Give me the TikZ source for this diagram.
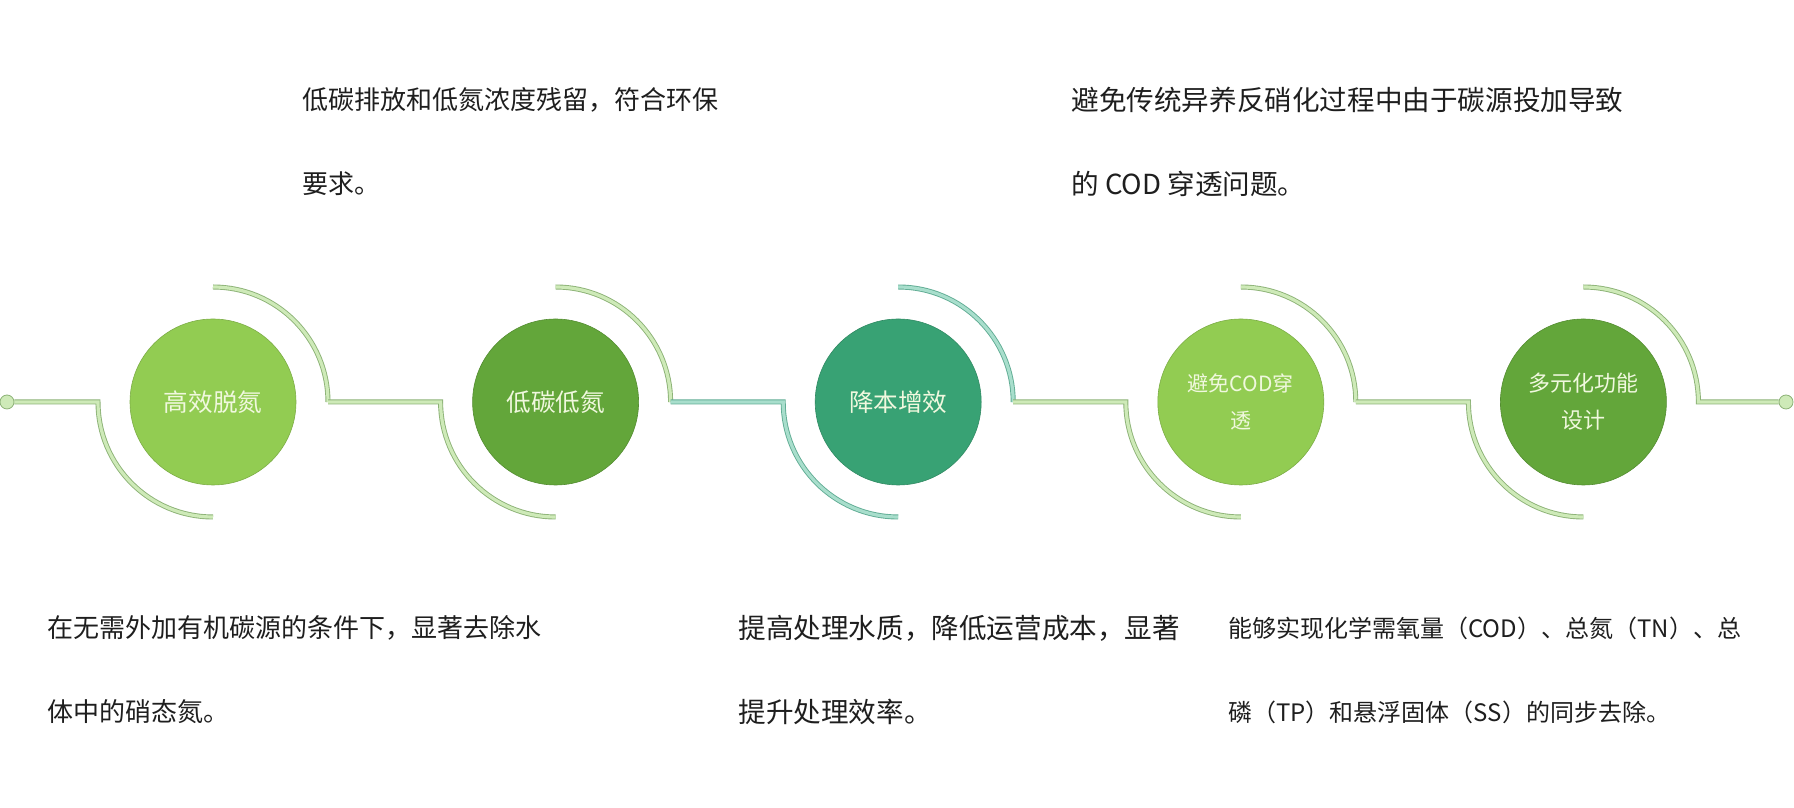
\documentclass[tikz,border=0pt]{standalone}
\usepackage{fontspec}
\setmainfont{Noto Sans CJK SC}
\usetikzlibrary{positioning}
\definecolor{leaflight}{RGB}{146,204,82}
\definecolor{leafdark}{RGB}{99,166,58}
\definecolor{tealgreen}{RGB}{56,162,116}
\definecolor{ringfill}{RGB}{206,234,184}
\definecolor{ringedge}{RGB}{140,178,118}
\definecolor{tealfill}{RGB}{168,222,204}
\definecolor{tealedge}{RGB}{96,172,148}
\definecolor{stagetext}{RGB}{240,248,222}
\definecolor{notetext}{RGB}{30,30,30}
\tikzstyle{stage} = [circle, minimum size=83pt, inner sep=0pt, align=center, text=stagetext, font=\fontsize{12.3pt}{18.5pt}\selectfont]
\tikzstyle{ring} = [draw=ringedge, double=ringfill, double distance=1.6pt, line width=0.45pt]
\tikzstyle{tealring} = [draw=tealedge, double=tealfill, double distance=1.6pt, line width=0.45pt]
\tikzstyle{dot} = [circle, fill=ringfill, draw=ringedge, line width=0.4pt, minimum size=7pt, inner sep=0pt]
\tikzstyle{note} = [align=left, anchor=west, inner sep=0pt, text=notetext, font=\fontsize{13pt}{42pt}\selectfont]

\begin{document}
\begin{tikzpicture}[x=0.5pt, y=0.5pt, node distance=88pt]
	\useasboundingbox (0,0) rectangle (1794,808);
	% Nodes
	\node (gaoxiao) [stage, fill=leaflight, draw=leaflight!85!black, line width=0.3pt] at (213,406) {高效脱氮};
	\node (ditan) [stage, fill=leafdark, draw=leafdark!85!black, line width=0.3pt, right=of gaoxiao] {低碳低氮};
	\node (jiangben) [stage, fill=tealgreen, draw=tealgreen!85!black, line width=0.3pt, right=of ditan] {降本增效};
	\node (bimian) [stage, fill=leaflight, draw=leaflight!85!black, line width=0.3pt, right=of jiangben, font=\fontsize{10.5pt}{18.5pt}\selectfont] {避免COD穿\\透};
	\node (duoyuan) [stage, fill=leafdark, draw=leafdark!85!black, line width=0.3pt, right=of bimian, font=\fontsize{11pt}{18.5pt}\selectfont] {多元化功能\\设计};
	\node (startdot) [dot] at (7,406) {};
	\node (enddot) [dot] at (1786,406) {};
	% Notes
	\node (note1) [note] at (302,666) {低碳排放和低氮浓度残留，符合环保\\要求。};
	\node (note2) [note, font=\fontsize{13.8pt}{42pt}\selectfont] at (1071,666) {避免传统异养反硝化过程中由于碳源投加导致\\的 COD 穿透问题。};
	\node (note3) [note] at (47,138) {在无需外加有机碳源的条件下，显著去除水\\体中的硝态氮。};
	\node (note4) [note, font=\fontsize{13.8pt}{42pt}\selectfont] at (738,138) {提高处理水质，降低运营成本，显著\\提升处理效率。};
	\node (note5) [note, font=\fontsize{12pt}{42pt}\selectfont] at (1228,138) {能够实现化学需氧量（COD）、总氮（TN）、总\\磷（TP）和悬浮固体（SS）的同步去除。};
	% Rings
	\draw [ring] (startdot) -- ([xshift=-57.5pt]gaoxiao.center) arc[start angle=180, end angle=270, radius=57.5pt];
	\foreach \a/\b/\ra/\rb in {gaoxiao/ditan/ring/ring, ditan/jiangben/ring/tealring, jiangben/bimian/tealring/ring, bimian/duoyuan/ring/ring} {
		\draw [\ra] ([yshift=57.5pt]\a.center) arc[start angle=90, end angle=0, radius=57.5pt] coordinate (\a-out);
		\draw [\rb] (\a-out) -- ([xshift=-57.5pt]\b.center) arc[start angle=180, end angle=270, radius=57.5pt];
	}
	\draw [ring] ([yshift=57.5pt]duoyuan.center) arc[start angle=90, end angle=0, radius=57.5pt] -- (enddot);
\end{tikzpicture}
\end{document}
